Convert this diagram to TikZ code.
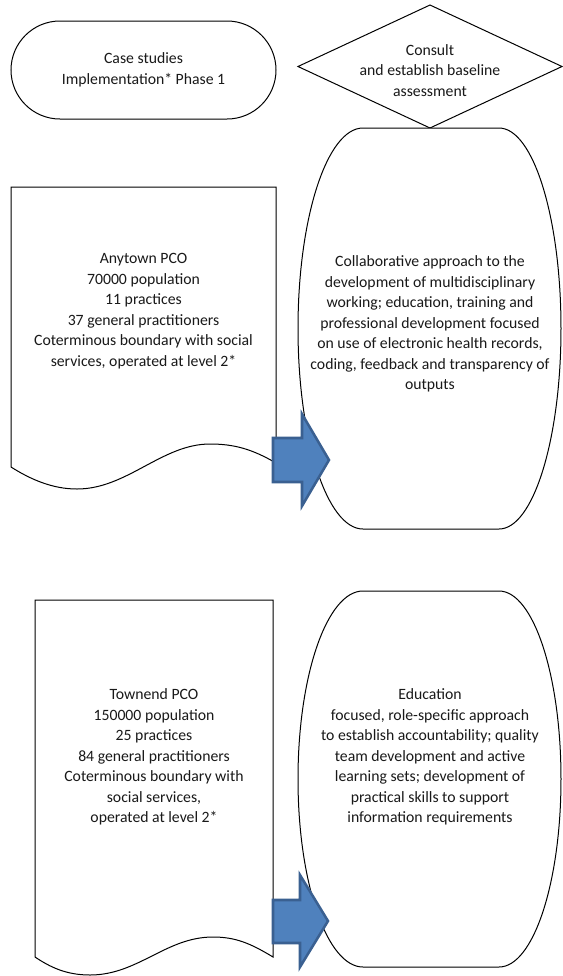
\documentclass[tikz,border=0pt]{standalone}
\usepackage{fontspec}
\setmainfont{Carlito}
\definecolor{arrowfill}{HTML}{4F81BD}
\definecolor{arrowline}{HTML}{3A6091}
\begin{document}
\begin{tikzpicture}[x=0.75pt,y=-0.75pt,
  shapeline/.style={draw=black, line width=0.75pt, fill=white},
  labeltext/.style={align=center, font=\fontsize{11.8pt}{15.4pt}\selectfont, inner sep=0pt, text=black!90},
  blockarrow/.style={fill=arrowfill, draw=arrowline, line width=1.9pt, line join=miter}]
\useasboundingbox (0,0) rectangle (563,976);

% terminator
\draw[shapeline, rounded corners=36.75pt] (11,21) rectangle (276,119);
\node[labeltext] (term) at (143.5,70) {Case studies\\Implementation* Phase 1};

% diamond
\draw[shapeline] (430,5) -- (562,66.5) -- (430,128) -- (298,66.5) -- cycle;
\node[labeltext] (cons) at (430,70.5) {Consult\\and establish baseline\\assessment};

% document 1
\draw[shapeline] (11,187) -- (276,187) -- (276,463)
  .. controls (252,449) and (234,444) .. (210,444)
  .. controls (162,444) and (127,489) .. (77,489)
  .. controls (52,489) and (30,479) .. (11,467) -- cycle;
\node[labeltext] (doc1) at (143.5,311) {Anytown PCO\\70000 population\\11 practices\\37 general practitioners\\Coterminous boundary with social\\services, operated at level 2*};

% oval 1
\draw[shapeline] (363,128) -- (499,128)
  arc[start angle=-90, end angle=90, x radius=62, y radius=200.5]
  -- (363,529)
  arc[start angle=90, end angle=270, x radius=65, y radius=200.5] -- cycle;
\node[labeltext] (ell1) at (430,324) {Collaborative approach to the\\development of multidisciplinary\\working; education, training and\\professional development focused\\on use of electronic health records,\\coding, feedback and transparency of\\outputs};

% document 2
\draw[shapeline] (35,600) -- (273,600) -- (273,957)
  .. controls (250,943) and (235,937) .. (213,937)
  .. controls (166,937) and (138,975) .. (90,975)
  .. controls (66,975) and (50,967) .. (35,957) -- cycle;
\node[labeltext] (doc2) at (154,757) {Townend PCO\\150000 population\\25 practices\\84 general practitioners\\Coterminous boundary with\\social services,\\operated at level 2*};

% oval 2
\draw[shapeline] (363,591) -- (499,591)
  arc[start angle=-90, end angle=90, x radius=62, y radius=188]
  -- (363,967)
  arc[start angle=90, end angle=270, x radius=65, y radius=188] -- cycle;
\node[labeltext] (ell2) at (430,757) {Education\\focused, role-specific approach\\to establish accountability; quality\\team development and active\\learning sets; development of\\practical skills to support\\information requirements};

% block arrows
\draw[blockarrow] (273,438) -- (302,438) -- (302,414) -- (329,460) -- (302,506) -- (302,482) -- (273,482) -- cycle;
\draw[blockarrow] (273,900) -- (300,900) -- (300,875) -- (328,921) -- (300,967) -- (300,943) -- (273,943) -- cycle;
\end{tikzpicture}
\end{document}
